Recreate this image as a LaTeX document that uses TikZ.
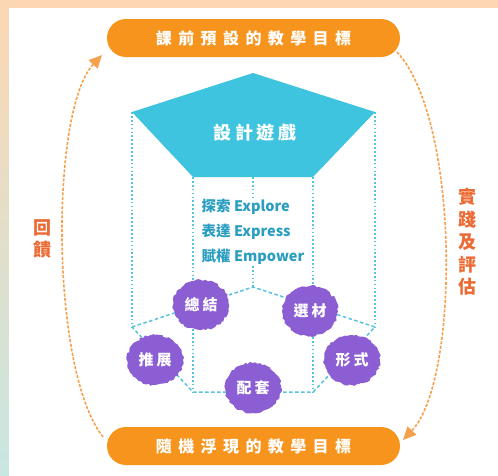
\documentclass[tikz,border=0pt]{standalone}
\usepackage{fontspec}
\usepackage{xcolor}
\newfontfamily\cjk{Noto Sans CJK TC}
\newfontfamily\cjkwide[LetterSpace=40]{Noto Sans CJK TC}
\newfontfamily\cjkmid[LetterSpace=20]{Noto Sans CJK TC}
\usetikzlibrary{
    arrows.meta,
    decorations.pathmorphing,
    shapes.geometric,
    positioning
}
\definecolor{goalorange}{HTML}{F7941D}
\definecolor{gamecyan}{HTML}{3FC4DF}
\definecolor{prismcyan}{HTML}{55C4DC}
\definecolor{playteal}{HTML}{2A9EC0}
\definecolor{blobpurple}{HTML}{8C5ED3}
\definecolor{loopred}{HTML}{EC6A33}
\definecolor{loopline}{HTML}{F5A04C}
\definecolor{peach}{HTML}{FDD7B3}
\definecolor{mint}{HTML}{C8E6E2}

\begin{document}
\begin{tikzpicture}[x=1pt, y=-1pt,
    goal/.style={fill=goalorange, rounded corners=19pt, minimum width=293pt,
        minimum height=38pt, inner sep=0pt, text=white,
        font=\cjkwide\bfseries\fontsize{16}{16}\selectfont},
    blob/.style={ellipse, fill=blobpurple, minimum width=56pt, minimum height=50pt,
        inner sep=0pt, text=white, font=\cjkmid\bfseries\fontsize{15}{15}\selectfont,
        decorate, decoration={random steps, segment length=2.5pt, amplitude=1.1pt}},
    side/.style={text=loopred, align=center, font=\cjk\bfseries\fontsize{18}{22.5}\selectfont},
    vline/.style={prismcyan, line width=1.7pt, dash pattern=on 1.7pt off 2.2pt},
    hline/.style={prismcyan, line width=1.5pt, dash pattern=on 3.5pt off 2.5pt},
    back/.style={loopline, line width=1.6pt, dash pattern=on 3pt off 1.6pt,
        -{Triangle[length=13pt, width=12pt]}}
]
    \useasboundingbox (0, 0) rectangle (498, 475);
    % background
    \fill[peach] (0, 0) rectangle (498, 8);
    \shade[top color=peach, bottom color=mint] (0, 0) rectangle (9, 475);
    \fill[white] (9, 8) rectangle (498, 475);

    % prism corners
    \coordinate (a) at (253, 73);
    \coordinate (l) at (132, 112);
    \coordinate (r) at (375, 112);
    \coordinate (bl) at (193, 177);
    \coordinate (br) at (313, 177);
    \coordinate (c) at (253, 177);
    \coordinate (lb) at (132, 327);
    \coordinate (cb) at (253, 287);
    \coordinate (rb) at (375, 327);
    \coordinate (blb) at (193, 392);
    \coordinate (brb) at (313, 392);

    \node[fill=white, inner sep=1pt, align=left, text=playteal,
        font=\cjk\bfseries\fontsize{14.5}{25}\selectfont] (play) at (253, 232)
        {探索 Explore\\表達 Express\\賦權 Empower};

    \draw[vline]
        (l) -- (lb)
        (bl) -- (blb)
        (br) -- (brb)
        (r) -- (rb)
        (c) -- (play.north)
        (play.south) -- (cb);
    \draw[hline] (lb) -- (cb) -- (rb) -- (brb) -- (blb) -- cycle;

    \fill[gamecyan] (a) -- (r) -- (br) -- (bl) -- (l) -- cycle;
    \node[text=white, font=\cjkmid\bfseries\fontsize{18}{18}\selectfont] (game) at (255, 133) {設計遊戲};

    \node[blob] (zj) at (201, 305) {總結};
    \node[blob] (xc) at (310, 311) {選材};
    \node[blob] (tz) at (155, 360) {推展};
    \node[blob] (pt) at (253, 388) {配套};
    \node[blob] (xs) at (352, 360) {形式};

    \node[goal] (gt) at (253.5, 38) {課前預設的教學目標};
    \node[goal] (gb) at (253.5, 446) {隨機浮現的教學目標};

    \coordinate (fbs) at (103, 437);
    \coordinate (fbe) at (102, 55);
    \coordinate (evs) at (397, 52);
    \coordinate (eve) at (403, 440);
    \draw[back] (fbs) .. controls (50, 370) and (50, 110) .. (fbe);
    \draw[back] (evs) .. controls (460, 120) and (460, 380) .. (eve);

    \node[side] (fb) at (43, 239) {回\\饋};
    \node[side] (ev) at (467, 242) {實\\踐\\及\\評\\估};
\end{tikzpicture}
\end{document}
